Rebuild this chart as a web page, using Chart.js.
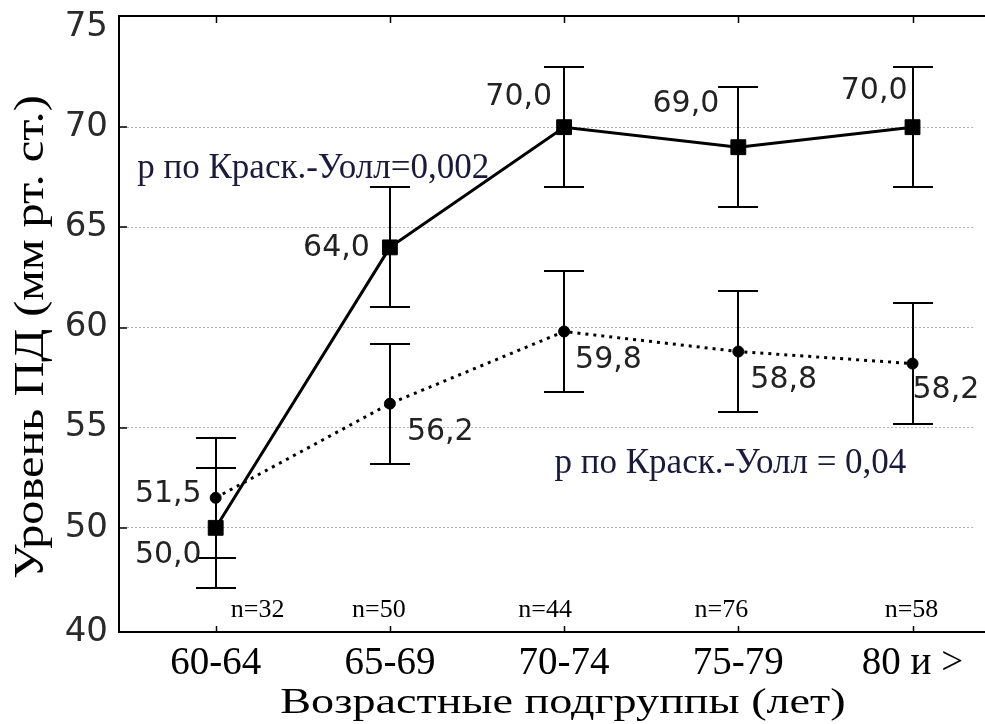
<!DOCTYPE html>
<html>
<head>
<meta charset="utf-8">
<script src="https://cdn.jsdelivr.net/npm/chart.js@4.4.0/dist/chart.umd.min.js"></script>
<style>
  html, body { margin: 0; padding: 0; background: #fff; }
  #wrap { width: 985px; height: 724px; position: relative; }
</style>
</head>
<body>
<div id="wrap"><canvas id="chart"></canvas></div>
<script>
// age groups and sample sizes
const ageGroups = ['60-64', '65-69', '70-74', '75-79', '80 и >'];
const groupSizes = ['n=32', 'n=50', 'n=44', 'n=76', 'n=58'];

// mean level with +/- error, two series
const levelSolid = [50.0, 64.0, 70.0, 69.0, 70.0];
const errSolid = [3, 3, 3, 3, 3];
const levelDotted = [51.5, 56.2, 59.8, 58.8, 58.2];
const errDotted = [3, 3, 3, 3, 3];

// y axis ticks; the lowest tick carries its own label
const yTickValues = [50, 55, 60, 65, 70, 75];
const yBottomLabel = '40';

const xTitle = 'Возрастные подгруппы (лет)';
const yTitle = 'Уровень ПД (мм рт. ст.)';
const pSolid = 'р по Краск.-Уолл=0,002';
const pDotted = 'р по Краск.-Уолл = 0,04';

const Y_MIN = 44.8, Y_MAX = 75.55;
const X_MIN = -0.555, X_MAX = 4.35;

const serif = '"Liberation Serif", "Times New Roman", serif';
const sans = '"DejaVu Sans", sans-serif';

function toPoints(arr) {
    return arr.map((v, i) => ({ x: i, y: v }));
}
function fmt(v) {
    return v.toFixed(1).replace('.', ',');
}

// where each value label sits relative to its point: [dx, dy, align]
const labelSpots = [
    [[-14, 27, 'right'], [-20, 1, 'right'], [-12, -30, 'right'], [-19, -43, 'right'], [-5, -36, 'right']],
    [[-14, -4, 'right'], [17, 29, 'left'], [11, 29, 'left'], [12, 29, 'left'], [0, 27, 'left']]
];
const nOffsets = [42, -11, -19, -17, -1];

const framePlugin = {
    id: 'frame',
    afterDraw(chart) {
        const { ctx, chartArea: a, scales } = chart;
        ctx.save();
        ctx.strokeStyle = '#000';
        ctx.lineWidth = 2;
        ctx.beginPath();
        ctx.moveTo(chart.width, a.top);
        ctx.lineTo(a.left, a.top);
        ctx.lineTo(a.left, a.bottom);
        ctx.lineTo(chart.width, a.bottom);
        ctx.stroke();
        // inward tick marks
        ctx.beginPath();
        ageGroups.forEach((_, i) => {
            const x = Math.round(scales.x.getPixelForValue(i)) + 0.5;
            ctx.moveTo(x, a.top); ctx.lineTo(x, a.top + 7);
            ctx.moveTo(x, a.bottom); ctx.lineTo(x, a.bottom - 6);
        });
        yTickValues.slice(0, -1).forEach(v => {
            const y = Math.round(scales.y.getPixelForValue(v));
            ctx.moveTo(a.left, y); ctx.lineTo(a.left + 8, y);
        });
        ctx.lineWidth = 1.5;
        ctx.stroke();
        ctx.restore();
    }
};

const errorBarPlugin = {
    id: 'errorBars',
    beforeDatasetsDraw(chart) {
        const { ctx, scales } = chart;
        ctx.save();
        ctx.strokeStyle = '#000';
        ctx.lineWidth = 2;
        chart.data.datasets.forEach(ds => {
            ds.data.forEach((p, i) => {
                const x = Math.round(scales.x.getPixelForValue(p.x));
                const yHi = Math.round(scales.y.getPixelForValue(p.y + ds.errors[i]));
                const yLo = Math.round(scales.y.getPixelForValue(p.y - ds.errors[i]));
                ctx.beginPath();
                ctx.moveTo(x, yHi); ctx.lineTo(x, yLo);
                ctx.moveTo(x - 20, yHi); ctx.lineTo(x + 20, yHi);
                ctx.moveTo(x - 20, yLo); ctx.lineTo(x + 20, yLo);
                ctx.stroke();
            });
        });
        ctx.restore();
    }
};

const textPlugin = {
    id: 'texts',
    afterDraw(chart) {
        const { ctx, scales, chartArea: a } = chart;
        ctx.save();
        ctx.textBaseline = 'middle';
        ctx.fillStyle = '#222';
        ctx.font = '30px ' + sans;
        chart.data.datasets.forEach((ds, d) => {
            ds.data.forEach((p, i) => {
                const [dx, dy, align] = labelSpots[d][i];
                ctx.textAlign = align;
                ctx.fillText(fmt(p.y), scales.x.getPixelForValue(p.x) + dx, scales.y.getPixelForValue(p.y) + dy);
            });
        });
        // sample sizes along the bottom
        ctx.fillStyle = '#000';
        ctx.textAlign = 'center';
        ctx.font = '26px ' + serif;
        groupSizes.forEach((t, i) => {
            ctx.fillText(t, scales.x.getPixelForValue(i) + nOffsets[i], a.bottom - 22);
        });
        // test results
        ctx.fillStyle = '#1c1a3c';
        ctx.textAlign = 'left';
        ctx.font = '35px ' + serif;
        ctx.fillText(pSolid, scales.x.getPixelForValue(-0.45), scales.y.getPixelForValue(67.9));
        ctx.fillText(pDotted, scales.x.getPixelForValue(1.945), scales.y.getPixelForValue(53.2));

        // axis titles, set a little wide
        ctx.fillStyle = '#000';
        ctx.textAlign = 'center';
        ctx.textBaseline = 'alphabetic';
        ctx.save();
        ctx.translate(563, 713);
        ctx.scale(1.32, 1);
        ctx.font = '35px ' + serif;
        ctx.fillText(xTitle, 0, 0);
        ctx.restore();
        ctx.save();
        ctx.translate(43, 337);
        ctx.rotate(-Math.PI / 2);
        ctx.scale(1.15, 1);
        ctx.font = '42px ' + serif;
        ctx.fillText(yTitle, 0, 0);
        ctx.restore();
        ctx.restore();
    }
};

const chart = new Chart(document.getElementById('chart'), {
    type: 'line',
    data: {
        datasets: [
            {
                label: 'solid',
                data: toPoints(levelSolid),
                errors: errSolid,
                borderColor: '#000',
                borderWidth: 3,
                pointStyle: 'rect',
                pointRadius: 10.5,
                pointBackgroundColor: '#000',
                pointBorderColor: '#000',
                pointBorderWidth: 1,
                tension: 0
            },
            {
                label: 'dotted',
                data: toPoints(levelDotted),
                errors: errDotted,
                borderColor: '#000',
                borderWidth: 3,
                borderDash: [3, 5],
                pointStyle: 'circle',
                pointRadius: 5.5,
                pointBackgroundColor: '#000',
                pointBorderColor: '#000',
                pointBorderWidth: 1,
                tension: 0
            }
        ]
    },
    options: {
        responsive: true,
        maintainAspectRatio: false,
        animation: false,
        layout: { padding: { top: 16, left: 0, right: 0, bottom: 0 } },
        plugins: {
            legend: { display: false },
            tooltip: { enabled: false }
        },
        scales: {
            x: {
                type: 'linear',
                min: X_MIN,
                max: X_MAX,
                afterBuildTicks: (scale) => {
                    scale.ticks = ageGroups.map((_, i) => ({ value: i }));
                },
                afterFit: (scale) => {
                    scale.height = 92;
                    scale.paddingLeft = 0;
                    scale.paddingRight = 0;
                },
                grid: { display: false },
                border: { display: false },
                ticks: {
                    autoSkip: false,
                    maxRotation: 0,
                    padding: 0,
                    color: '#000',
                    font: { family: serif, size: 39 },
                    callback: (v) => ageGroups[v]
                }
            },
            y: {
                min: Y_MIN,
                max: Y_MAX,
                afterBuildTicks: (scale) => {
                    scale.ticks = [Y_MIN, ...yTickValues].map(v => ({ value: v }));
                },
                afterFit: (scale) => {
                    scale.width = 119;
                    scale.paddingTop = 0;
                    scale.paddingBottom = 0;
                },
                border: { display: false, dash: [2, 2] },
                grid: {
                    drawTicks: false,
                    lineWidth: 1,
                    color: (c) => (c.tick && c.tick.value >= 50 && c.tick.value <= 70) ? '#b4b4b4' : 'rgba(0,0,0,0)'
                },
                ticks: {
                    padding: 11,
                    color: '#2a2a2a',
                    font: { family: sans, size: 34 },
                    callback: (v) => v === Y_MIN ? yBottomLabel : String(v)
                }
            }
        }
    },
    plugins: [errorBarPlugin, framePlugin, textPlugin]
});
</script>
</body>
</html>
